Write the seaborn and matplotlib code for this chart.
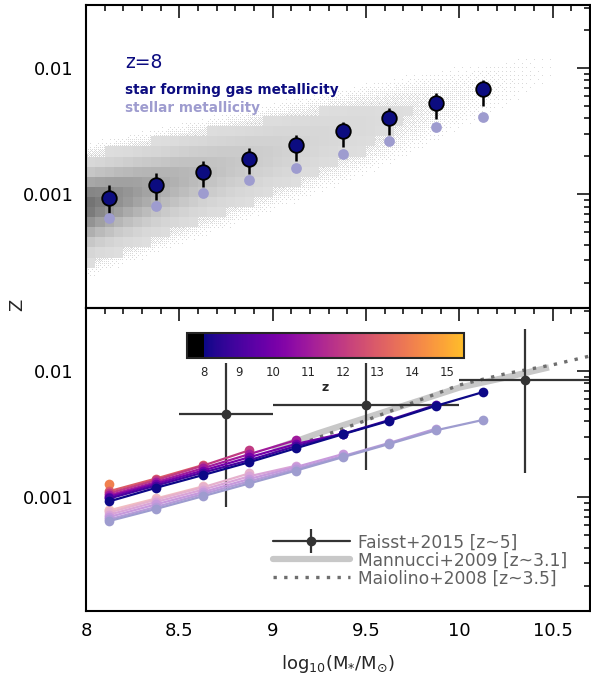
import numpy as np
import pandas as pd
import matplotlib
matplotlib.use("Agg")
import matplotlib.pyplot as plt
import seaborn as sns
from matplotlib.colors import ListedColormap, Normalize, to_rgb
from matplotlib.colorbar import ColorbarBase
from matplotlib.ticker import LogLocator, MultipleLocator, FuncFormatter, NullFormatter
from matplotlib.lines import Line2D

sns.set_theme(style="white")
plt.rcParams["font.family"] = ["DejaVu Sans"]
plt.rcParams["mathtext.fontset"] = "dejavusans"

# ---------------- data ----------------
mass_bins = [8.125, 8.375, 8.625, 8.875, 9.125, 9.375, 9.625, 9.875, 10.125]

# z = 8 medians and 16-84 range of the star forming gas metallicity
gas_z8 = [0.00093, 0.00119, 0.00150, 0.00190, 0.00245, 0.00316, 0.00404, 0.00531, 0.00681]
gas_z8_hi = [0.00119, 0.00148, 0.00184, 0.00233, 0.00294, 0.00375, 0.00479, 0.00637, 0.00804]
gas_z8_lo = [0.00070, 0.00090, 0.00114, 0.00146, 0.00183, 0.00237, 0.00294, 0.00399, 0.00499]
stellar_z8 = [0.00065, 0.00081, 0.00102, 0.00129, 0.00163, 0.00208, 0.00265, 0.00340, 0.00410]

# gas metallicity at higher redshift (fewer massive galaxies)
gas_z9 = [0.00098, 0.00124, 0.00157, 0.00197, 0.00255, 0.00318, 0.00410, 0.00540]
gas_z10 = [0.00101, 0.00128, 0.00163, 0.00208, 0.00265, 0.00320]
gas_z11 = [0.00104, 0.00132, 0.00170, 0.00220, 0.00284]
gas_z12 = [0.00108, 0.00137, 0.00178, 0.00236]
gas_z13 = [0.00112, 0.00141, 0.00180]
gas_z14 = [0.00128]

stellar_z9 = [0.00067, 0.00084, 0.00106, 0.00134, 0.00168, 0.00212, 0.00270, 0.00350]
stellar_z10 = [0.00070, 0.00088, 0.00110, 0.00140, 0.00174, 0.00220]
stellar_z11 = [0.00073, 0.00092, 0.00115, 0.00147, 0.00178]
stellar_z12 = [0.00076, 0.00096, 0.00120, 0.00155]
stellar_z13 = [0.00079, 0.00098, 0.00122]
stellar_z14 = [0.00080]

redshifts = [8, 9, 10, 11, 12, 13, 14]
gas_lines = [gas_z8, gas_z9, gas_z10, gas_z11, gas_z12, gas_z13, gas_z14]
stellar_lines = [stellar_z8, stellar_z9, stellar_z10, stellar_z11, stellar_z12, stellar_z13, stellar_z14]

# observations
faisst_mass = [8.75, 9.5, 10.35]
faisst_mass_err = [0.25, 0.5, 0.35]
faisst_Z = [0.00457, 0.00536, 0.00845]
faisst_Z_lo = [0.00084, 0.00164, 0.00157]
faisst_Z_hi = [0.01150, 0.01150, 0.02140]

mannucci_mass = [9.0, 9.25, 9.5, 9.75, 10.0, 10.25, 10.48]
mannucci_Z = [0.00240, 0.00324, 0.00427, 0.00562, 0.00741, 0.00891, 0.01070]

maiolino_mass = [9.2, 9.5, 9.75, 10.0, 10.25, 10.5, 10.7]
maiolino_Z = [0.00282, 0.00407, 0.00562, 0.00776, 0.00955, 0.01122, 0.01318]

# simulated galaxy population at z = 8: relative abundance and scatter
pop_mass = [8.0, 8.5, 9.0, 9.5, 10.0, 10.5, 10.7]
pop_peak = [1.0, 0.35, 0.12, 0.04, 0.009, 0.0025, 0.0008]
pop_scatter_up = 0.14
pop_scatter_down = 0.17

# ---------------- colours ----------------
ZMIN, ZMAX = 7.5, 15.5
plasma = plt.get_cmap("plasma")
vals = np.linspace(ZMIN, ZMAX, 800)
cb_colors = [(0, 0, 0, 1) if v < 8 else plasma((v - 8) / (ZMAX - 8) * 0.86) for v in vals]
z_cmap = ListedColormap(cb_colors)
z_norm = Normalize(ZMIN, ZMAX)


def zcolor(z):
    return to_rgb(plasma((z - 8) / (ZMAX - 8) * 0.86))


def faded(c, f=0.4):
    c = np.array(to_rgb(c))
    return tuple(c * f + (1 - f))


GAS_COL = "#0c0c80"
STAR_COL = faded(zcolor(8))
FAISST_COL = "#333333"

# ---------------- figure ----------------
W, H = 591, 682
fig = plt.figure(figsize=(W / 100, H / 100), dpi=100)
ax_l = 86 / W
ax_w = (590 - 86) / W
ax_h = 303 / H
ax1 = fig.add_axes([ax_l, 1 - 308 / H, ax_w, ax_h])
ax2 = fig.add_axes([ax_l, 1 - 611 / H, ax_w, ax_h])

LOGZ_MIN, LOGZ_MAX = -3.9, -1.5


def style_axes(ax, labels=True):
    ax.set_yscale("log")
    ax.set_xlim(8, 10.7)
    ax.set_ylim(10 ** LOGZ_MIN, 10 ** LOGZ_MAX)
    ax.xaxis.set_major_locator(MultipleLocator(0.5))
    ax.xaxis.set_minor_locator(MultipleLocator(0.1))
    ax.yaxis.set_major_locator(LogLocator(base=10, numticks=10))
    ax.yaxis.set_minor_locator(LogLocator(base=10, subs=np.arange(2, 10), numticks=10))
    ax.yaxis.set_major_formatter(FuncFormatter(lambda v, p: f"{v:g}"))
    ax.yaxis.set_minor_formatter(NullFormatter())
    ax.xaxis.set_major_formatter(FuncFormatter(lambda v, p: f"{v:g}"))
    ax.tick_params(which="both", direction="in", top=True, right=True,
                   width=1.1, color="black", labelsize=13, labelcolor="black")
    ax.tick_params(which="major", length=9.5)
    ax.tick_params(which="minor", length=4.5)
    ax.tick_params(axis="y", pad=9)
    ax.tick_params(axis="x", pad=8, labelbottom=labels)
    for s in ax.spines.values():
        s.set_linewidth(1.5)
        s.set_color("black")
    ax.set_facecolor("none")


# ---- population density map behind the top panel ----
center_coef = np.polyfit(mass_bins, np.log10(gas_z8), 2)


def pop_density(m, lz):
    peak = 10 ** np.interp(m, pop_mass, np.log10(pop_peak))
    c = np.polyval(center_coef, m)
    sig = np.where(lz > c, pop_scatter_up, pop_scatter_down)
    return peak * np.exp(-0.5 * ((lz - c) / sig) ** 2)


THR = 0.02
cm_edges = np.arange(8.0, 10.7 + 1e-9, 0.05)
cz_edges = np.arange(LOGZ_MIN, LOGZ_MAX + 1e-9, 0.08)
cm_c = 0.5 * (cm_edges[1:] + cm_edges[:-1])
cz_c = 0.5 * (cz_edges[1:] + cz_edges[:-1])
CM, CZ = np.meshgrid(cm_c, cz_c)
dc = pop_density(CM, CZ)
coarse_gray = 0.885 - 0.45 * np.clip(dc, 0, 1) ** 0.85
coarse_gray = np.ma.masked_where(dc < THR, coarse_gray)

# fine layer of individual galaxies in the sparse outskirts (ordered dithering)
fm_edges = np.linspace(8.0, 10.7, 505)
fz_edges = np.linspace(LOGZ_MIN, LOGZ_MAX, 304)
fm_c = 0.5 * (fm_edges[1:] + fm_edges[:-1])
fz_c = 0.5 * (fz_edges[1:] + fz_edges[:-1])
FM, FZ = np.meshgrid(fm_c, fz_c)
df = pop_density(FM, FZ)
bay = np.array([[0]])
for _ in range(3):
    bay = np.block([[4 * bay, 4 * bay + 2], [4 * bay + 3, 4 * bay + 1]])
bay_thr = (bay + 0.5) / bay.size
iy, ix = np.indices(FM.shape)
thr_map = bay_thr[iy % 8, ix % 8]
prob = np.clip((df - 0.002) / (THR - 0.002), 0, 1) * 0.55
speck = prob > thr_map
fine_gray = np.ma.masked_where(~speck, np.full(FM.shape, 0.85))

ax1.pcolormesh(fm_edges, 10 ** fz_edges, fine_gray, cmap="gray", vmin=0, vmax=1,
               shading="flat", antialiased=False, edgecolors="none", zorder=0.5)
ax1.pcolormesh(cm_edges, 10 ** cz_edges, coarse_gray, cmap="gray", vmin=0, vmax=1,
               shading="flat", antialiased=False, edgecolors="none", zorder=0.6)

# ---- top panel: z = 8 relation ----
yerr = [np.array(gas_z8) - np.array(gas_z8_lo), np.array(gas_z8_hi) - np.array(gas_z8)]
ax1.errorbar(mass_bins, gas_z8, yerr=yerr, fmt="none", ecolor="black",
             elinewidth=1.8, capsize=0, zorder=3)
top_df = pd.DataFrame({"mass": mass_bins, "gas": gas_z8, "stellar": stellar_z8})
sns.scatterplot(data=top_df, x="mass", y="stellar", ax=ax1, color=STAR_COL, s=60,
                linewidth=0, zorder=3, legend=False)
sns.scatterplot(data=top_df, x="mass", y="gas", ax=ax1, color=GAS_COL, s=110,
                edgecolor="black", linewidth=1.3, zorder=4, legend=False)
style_axes(ax1, labels=False)
ax1.set_xlabel("")
ax1.set_ylabel("")

ax1.text(0.077, 0.81, "z=8", transform=ax1.transAxes, fontsize=13.5,
         color=GAS_COL, va="center", ha="left")
ax1.text(0.077, 0.719, "star forming gas metallicity", transform=ax1.transAxes,
         fontsize=9.8, fontweight="bold", color=GAS_COL, va="center", ha="left")
ax1.text(0.077, 0.66, "stellar metallicity", transform=ax1.transAxes,
         fontsize=9.8, fontweight="bold", color=STAR_COL, va="center", ha="left")

# ---- bottom panel: redshift evolution ----
rows_g, rows_s = [], []
for z, g, s in zip(redshifts, gas_lines, stellar_lines):
    for m, v in zip(mass_bins, g):
        rows_g.append({"mass": m, "Z": v, "z": z})
    for m, v in zip(mass_bins, s):
        rows_s.append({"mass": m, "Z": v, "z": z})
gas_df = pd.DataFrame(rows_g)
star_df = pd.DataFrame(rows_s)
order = redshifts[::-1]
gas_pal = {z: zcolor(z) for z in redshifts}
star_pal = {z: faded(zcolor(z)) for z in redshifts}

# observational relations
ax2.plot(mannucci_mass, mannucci_Z, color="#c8c8c8", lw=4.5, solid_capstyle="butt",
         zorder=1.2)
ax2.plot(maiolino_mass, maiolino_Z, color="#6e6e6e", lw=2.4, ls=(0, (1, 2.2)),
         zorder=1.3)
ax2.errorbar(faisst_mass, faisst_Z, xerr=faisst_mass_err,
             yerr=[np.array(faisst_Z) - np.array(faisst_Z_lo),
                   np.array(faisst_Z_hi) - np.array(faisst_Z)],
             fmt="o", color=FAISST_COL, ms=6, elinewidth=1.6, capsize=0, zorder=1.5)

for df_, pal in ((star_df, star_pal), (gas_df, gas_pal)):
    for z in order:
        sub = df_[df_["z"] == z]
        sns.lineplot(data=sub, x="mass", y="Z", ax=ax2, color=pal[z], lw=1.6,
                     marker="o", markersize=7, markeredgewidth=0, estimator=None,
                     sort=False, legend=False, zorder=2)

style_axes(ax2, labels=True)
ax2.set_ylabel("")
ax2.set_xlabel(r"$\mathrm{log_{10}(M_{*}/M_{\odot})}$", fontsize=13, labelpad=9)

faisst_handle = (Line2D([], [], color=FAISST_COL, lw=1.6),
                 Line2D([], [], color=FAISST_COL, marker="|", ms=17, mew=1.6, ls="none"),
                 Line2D([], [], color=FAISST_COL, marker="o", ms=6, ls="none"))
handles = [faisst_handle, Line2D([], [], color="#c8c8c8", lw=4.5),
           Line2D([], [], color="#6e6e6e", lw=2.4, ls=(0, (1, 2.2)))]
labels = ["Faisst+2015 [z~5]", "Mannucci+2009 [z~3.1]", "Maiolino+2008 [z~3.5]"]
leg = ax2.legend(handles, labels, loc="center left", bbox_to_anchor=(0.371, 0.167),
                 frameon=False, fontsize=12.3, handlelength=4.5, handletextpad=0.5,
                 labelspacing=0.0, borderpad=0, borderaxespad=0)
for t in leg.get_texts():
    t.set_color("#606060")

fig.text(17 / W, 1 - 305 / H, "Z", rotation=90, fontsize=13, ha="center", va="center")

# ---- redshift colour bar ----
cax = fig.add_axes([187 / W, 1 - 358 / H, 277 / W, 25 / H])
cb = ColorbarBase(cax, cmap=z_cmap, norm=z_norm, orientation="horizontal")
cb.set_ticks(list(range(8, 16)))
cb.outline.set_linewidth(1.5)
cax.tick_params(axis="x", direction="in", top=True, bottom=True, length=4,
                width=1, color="black", labelsize=8.5, pad=6)
cax.set_xlabel("z", fontsize=9, fontweight="bold", labelpad=1)

fig.savefig("out.png", dpi=100)
